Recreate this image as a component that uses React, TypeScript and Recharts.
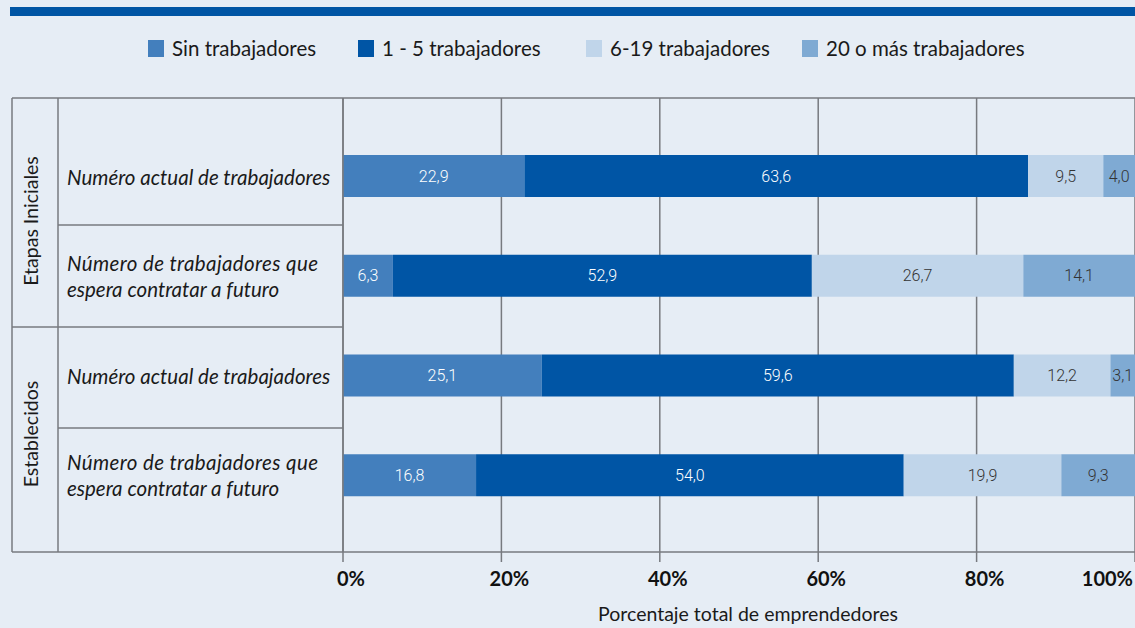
import { BarChart, Bar, XAxis, YAxis, CartesianGrid, LabelList } from "recharts";

// categories (rows) and groups
const groupNames = ["Etapas Iniciales", "Establecidos"];
const rowKeys = ["ei-actual", "ei-futuro", "est-actual", "est-futuro"];
const rowLabels = [
  ["Numéro actual de trabajadores"],
  ["Número de trabajadores que", "espera contratar a futuro"],
  ["Numéro actual de trabajadores"],
  ["Número de trabajadores que", "espera contratar a futuro"],
];

// series
const seriesNames = ["Sin trabajadores", "1 - 5 trabajadores", "6-19 trabajadores", "20 o más trabajadores"];
const sinTrabajadores = [22.9, 6.3, 25.1, 16.8];
const unoACinco = [63.6, 52.9, 59.6, 54.0];
const seisADiecinueve = [9.5, 26.7, 12.2, 19.9];
const veinteOMas = [4.0, 14.1, 3.1, 9.3];

const xTicks = [0, 20, 40, 60, 80, 100];
const xTitle = "Porcentaje total de emprendedores";

const COLORS = ["#437fbd", "#0055a5", "#c0d5ea", "#7faad3"];
const LABEL_COLORS = ["#ffffff", "#ffffff", "#333333", "#333333"];
const KEYS = ["s0", "s1", "s2", "s3"];

const BG = "#e6edf5";
const LINE = "#777a7f";
const FONT = "Lato, 'Open Sans', sans-serif";

const data = rowKeys.map((key, i) => ({
  key,
  s0: sinTrabajadores[i],
  s1: unoACinco[i],
  s2: seisADiecinueve[i],
  s3: veinteOMas[i],
}));

const fmt = (v: any) => Number(v).toFixed(1).replace(".", ",");

function RowTick(props: any) {
  const { y, payload } = props;
  const i = rowKeys.indexOf(payload.value);
  const lines = rowLabels[i] || [];
  const common = { fontFamily: FONT, fontStyle: "italic", fontSize: 20.5, fill: "#1a1a1a" };
  if (lines.length === 1) {
    return (
      <text x={67} y={y + 9} {...common}>
        {lines[0]}
      </text>
    );
  }
  return (
    <text {...common}>
      <tspan x={67} y={y - 5} textLength={251} lengthAdjust="spacing">
        {lines[0]}
      </tspan>
      <tspan x={67} y={y + 21}>
        {lines[1]}
      </tspan>
    </text>
  );
}

function PctTick(props: any) {
  const { x, payload } = props;
  const last = payload.value === 100;
  return (
    <text
      x={last ? x - 2 : x + 8}
      y={586}
      textAnchor={last ? "end" : "middle"}
      fontFamily={FONT}
      fontWeight={700}
      fontSize={20}
      fill="#111"
    >
      {payload.value}%
    </text>
  );
}

const legendX = [148, 358, 586, 802];

export default function App() {
  return (
    <div
      style={{
        position: "fixed",
        left: 0,
        top: 0,
        width: 1135,
        height: 628,
        background: BG,
        overflow: "hidden",
      }}
    >
      {/* legend */}
      {seriesNames.map((name, i) => (
        <div
          key={name}
          style={{
            position: "absolute",
            left: legendX[i],
            top: 37,
            height: 22,
            display: "flex",
            alignItems: "center",
            fontFamily: FONT,
            fontSize: 20.5,
            color: "#1a1a1a",
            whiteSpace: "nowrap",
          }}
        >
          <span style={{ display: "inline-block", width: 16, height: 17, background: COLORS[i], marginRight: 8 }} />
          {name}
        </div>
      ))}

      <div style={{ position: "absolute", left: 0, top: 0 }}>
        <BarChart
          width={1136}
          height={628}
          data={data}
          layout="vertical"
          margin={{ top: 98, right: 1, bottom: 0, left: 0 }}
        >
          <CartesianGrid horizontal={false} stroke={LINE} strokeWidth={1.5} />
          <XAxis
            type="number"
            domain={[0, 100]}
            ticks={xTicks}
            interval={0}
            height={76}
            tickSize={10}
            axisLine={{ stroke: LINE, strokeWidth: 1.5 }}
            tickLine={{ stroke: LINE, strokeWidth: 1.5 }}
            tick={<PctTick />}
          />
          <YAxis
            type="category"
            dataKey="key"
            width={343}
            interval={0}
            padding={{ top: 28, bottom: 27 }}
            axisLine={{ stroke: LINE, strokeWidth: 1.5 }}
            tickLine={false}
            tick={<RowTick />}
          />
          {KEYS.map((k, i) => (
            <Bar
              key={k}
              dataKey={k}
              name={seriesNames[i]}
              stackId="a"
              fill={COLORS[i]}
              barSize={42}
              isAnimationActive={false}
            >
              <LabelList
                dataKey={k}
                position="center"
                formatter={fmt}
                fill={LABEL_COLORS[i]}
                fontSize={16}
                fontFamily="Roboto, 'Liberation Sans', sans-serif"
                fontWeight={300}
              />
            </Bar>
          ))}
        </BarChart>
      </div>

      {/* frame, table lines, group labels, title */}
      <svg
        width={1135}
        height={628}
        style={{ position: "absolute", left: 0, top: 0, pointerEvents: "none" }}
      >
        <rect x={10} y={7} width={1125} height={9} fill="#0055a4" />
        <g stroke={LINE} strokeWidth={1.5}>
          <line x1={12} y1={98} x2={1136} y2={98} />
          <line x1={12} y1={552} x2={343} y2={552} />
          <line x1={12} y1={98} x2={12} y2={552} />
          <line x1={58} y1={98} x2={58} y2={552} />
          <line x1={58} y1={225} x2={343} y2={225} />
          <line x1={12} y1={327} x2={343} y2={327} />
          <line x1={58} y1={428} x2={343} y2={428} />
        </g>
        <text
          transform="translate(38,221) rotate(-90)"
          textAnchor="middle"
          fontFamily={FONT}
          fontSize={19.5}
          fill="#1a1a1a"
        >
          {groupNames[0]}
        </text>
        <text
          transform="translate(38,434) rotate(-90)"
          textAnchor="middle"
          fontFamily={FONT}
          fontSize={19.5}
          fill="#1a1a1a"
        >
          {groupNames[1]}
        </text>
        <text x={748} y={621} textAnchor="middle" fontFamily={FONT} fontSize={19.5} fill="#1a1a1a">
          {xTitle}
        </text>
      </svg>
    </div>
  );
}
